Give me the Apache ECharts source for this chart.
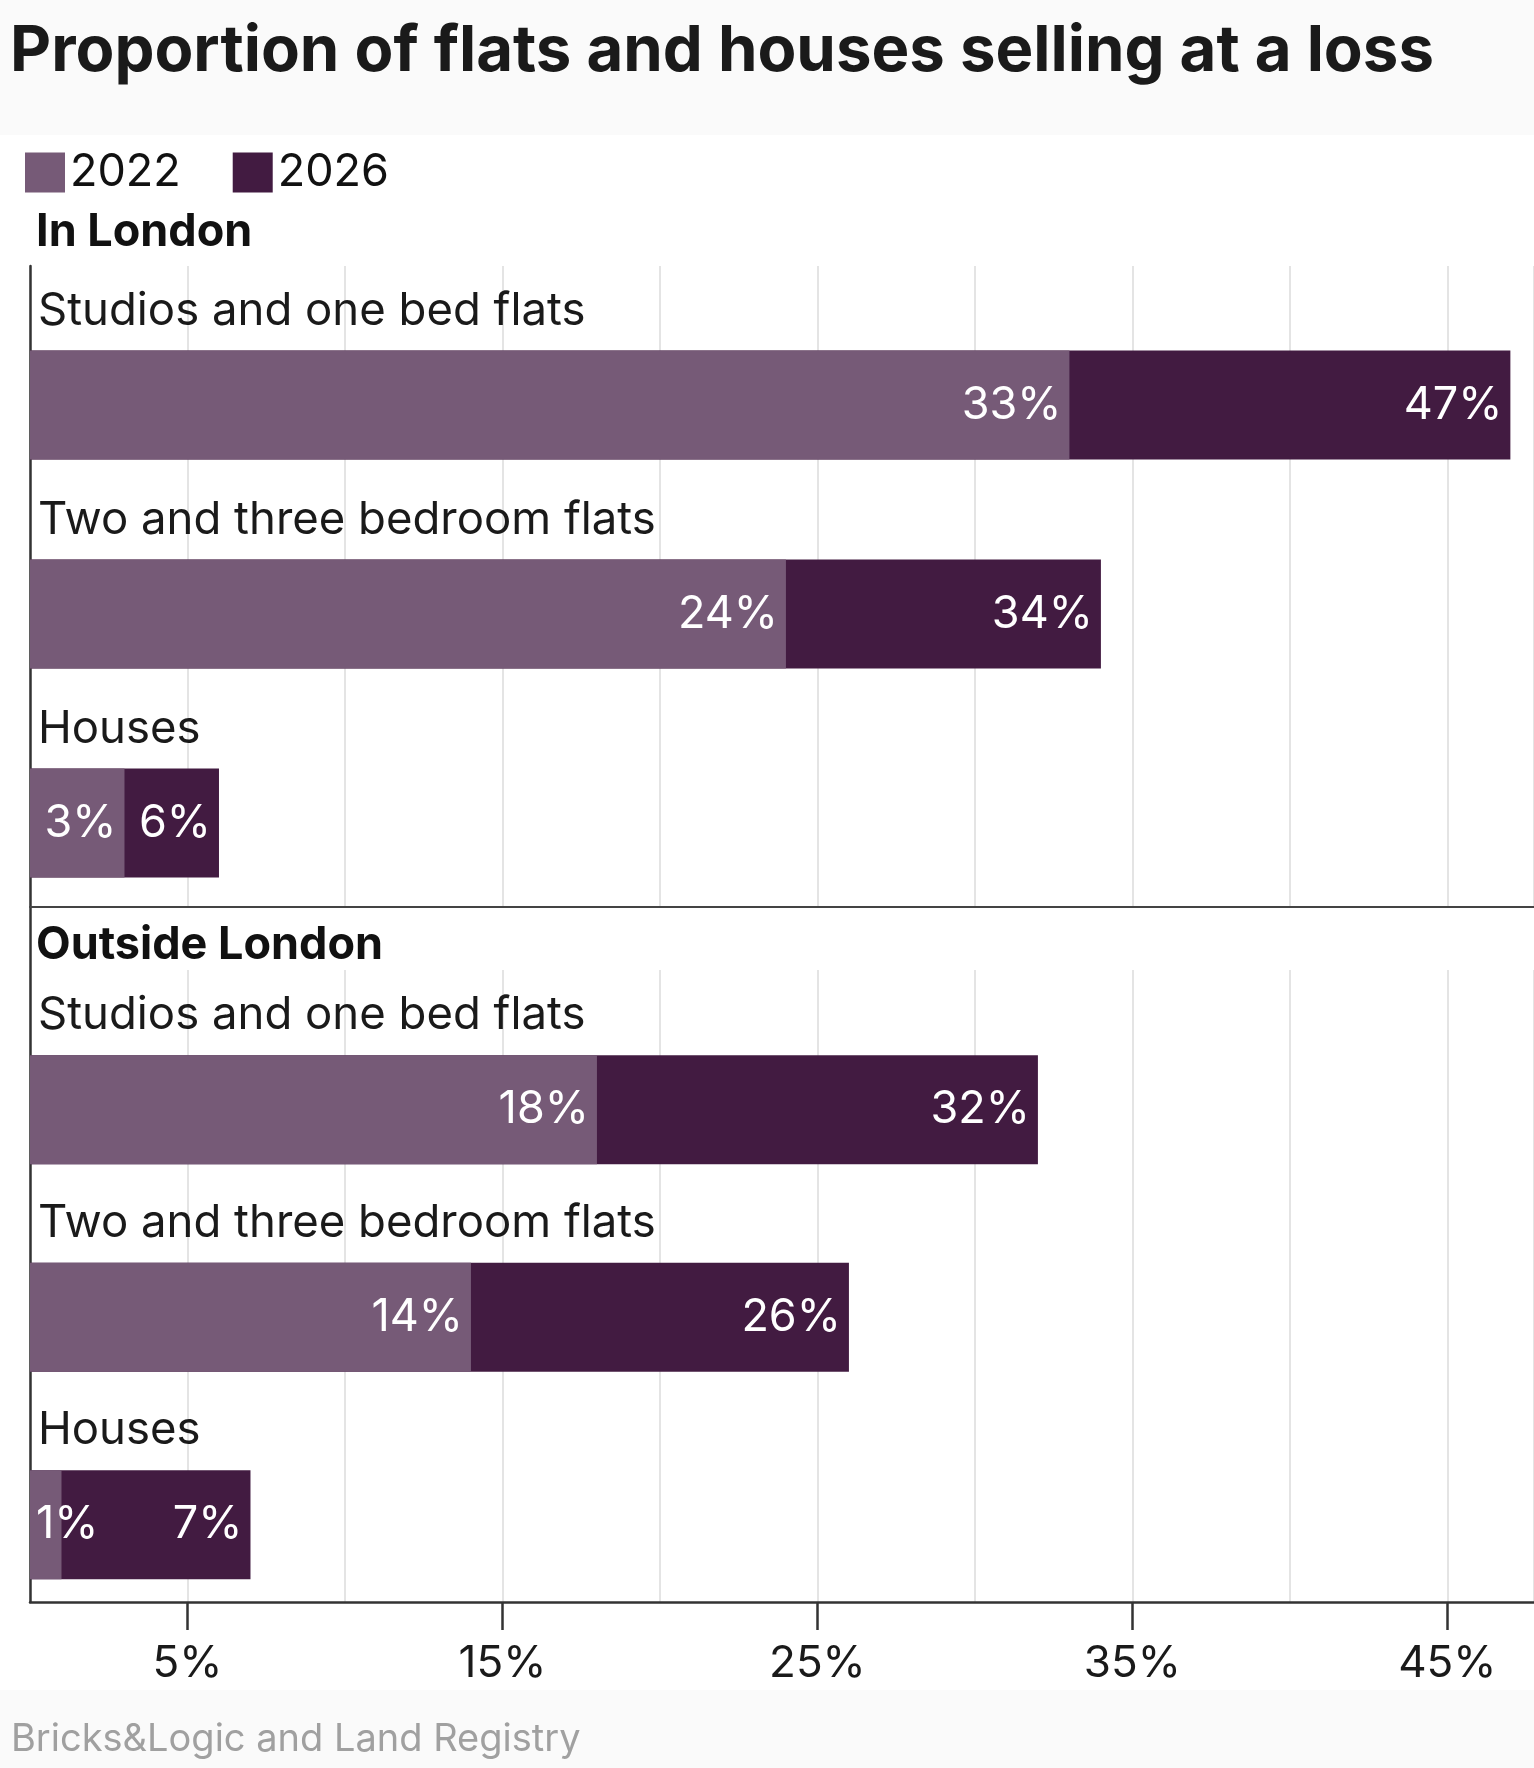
<!DOCTYPE html>
<html>
<head>
<meta charset="utf-8">
<title>Proportion of flats and houses selling at a loss</title>
<script src="https://cdn.jsdelivr.net/npm/echarts@6/dist/echarts.min.js"></script>
<style>
  html, body { margin: 0; padding: 0; background: #fafafa; }
  #chart { width: 1534px; height: 1768px; }
</style>
</head>
<body>
<div id="chart"></div>
<script>
// data
const categories = ["Studios and one bed flats", "Two and three bedroom flats", "Houses"];
const london2022 = [33, 24, 3];
const london2026 = [47, 34, 6];
const outside2022 = [18, 14, 1];
const outside2026 = [32, 26, 7];
const tickValues = [5, 15, 25, 35, 45];

const light = "#765a77";
const dark = "#421b41";
const font = "Inter";
const xMax = 47.75;

// tiny bars get their label on the left instead
function withLabels(values) {
    return values.map(v => v < 2
        ? { value: v, label: { position: "insideLeft", distance: 6 } }
        : v);
}

function barSeries(name, color, values, gridIdx, z) {
    return {
        name: name,
        type: "bar",
        xAxisIndex: gridIdx,
        yAxisIndex: gridIdx,
        barWidth: 109,
        barGap: "-100%",
        z: z,
        itemStyle: { color: color },
        label: {
            show: true,
            position: "insideRight",
            distance: 8,
            formatter: "{c}%",
            color: "#fff",
            fontFamily: font,
            fontSize: 45,
        },
        data: withLabels(values),
    };
}

const hiddenValueY = { type: "value", min: 0, max: 1, show: false };

function linesX(gridIdx, showLine) {
    return {
        type: "value", gridIndex: gridIdx, min: 0, max: xMax, interval: 5,
        axisLine: { show: showLine, onZero: false, lineStyle: { color: "#444", width: 2 } },
        axisTick: { show: false },
        axisLabel: { show: false },
        splitLine: { show: true, lineStyle: { color: "#e4e4e4", width: 2 } },
    };
}

function barY(gridIdx) {
    return {
        type: "category", gridIndex: gridIdx, data: categories, inverse: true,
        axisLine: { show: false },
        axisTick: { show: false },
        splitLine: { show: false },
        axisLabel: {
            inside: true,
            margin: 8,
            verticalAlign: "bottom",
            padding: [0, 0, 68, 0],
            lineHeight: 52,
            color: "#1a1a1a",
            fontFamily: font,
            fontSize: 45.5,
        },
    };
}

const chart = echarts.init(document.getElementById("chart"));

const option = {
    backgroundColor: "#fafafa",
    animation: false,
    graphic: [
        { type: "rect", z: -10, shape: { x: 0, y: 135, width: 1534, height: 1555 }, style: { fill: "#ffffff" } },
    ],
    title: [
        {
            text: "Proportion of flats and houses selling at a loss",
            left: 5, top: 15,
            textStyle: { fontFamily: font, fontWeight: "bold", fontSize: 63.5, color: "#1a1a1a" },
        },
        {
            text: "In London",
            left: 31, top: 205,
            textStyle: { fontFamily: font, fontWeight: "bold", fontSize: 45, color: "#111" },
        },
        {
            text: "Outside London",
            left: 31, top: 918,
            textStyle: { fontFamily: font, fontWeight: "bold", fontSize: 45, color: "#111" },
        },
        {
            text: "Bricks&Logic and Land Registry",
            left: 6, top: 1716,
            textStyle: { fontFamily: font, fontWeight: "normal", fontSize: 38, color: "#a0a0a0" },
        },
    ],
    legend: {
        data: ["2022", "2026"],
        left: 25, top: 150,
        icon: "rect",
        itemWidth: 40, itemHeight: 40, itemGap: 52,
        padding: 0,
        textStyle: { fontFamily: font, fontSize: 45, color: "#111", padding: [0, 0, 0, 0] },
    },
    grid: [
        { left: 30, right: 0, top: 266, height: 1336 },   // frame with ticks
        { left: 30, right: 0, top: 266, height: 641 },    // London gridlines + separator
        { left: 30, right: 0, top: 970, height: 632 },    // Outside gridlines
        { left: 30, right: 0, top: 300.5, height: 627 },  // London bars
        { left: 30, right: 0, top: 1006, height: 622.5 }, // Outside bars
    ],
    xAxis: [
        {
            type: "value", gridIndex: 0, min: 0, max: xMax, interval: 5,
            axisLine: { show: true, onZero: false, lineStyle: { color: "#333", width: 2.5 } },
            axisTick: { show: true, length: 28, customValues: tickValues, lineStyle: { color: "#333", width: 2.5 } },
            axisLabel: {
                show: true, customValues: tickValues, formatter: "{value}%", margin: 40,
                color: "#1a1a1a", fontFamily: font, fontSize: 44,
            },
            splitLine: { show: false },
        },
        linesX(1, true),
        linesX(2, false),
        { type: "value", gridIndex: 3, min: 0, max: xMax, show: false },
        { type: "value", gridIndex: 4, min: 0, max: xMax, show: false },
    ],
    yAxis: [
        {
            type: "value", gridIndex: 0, min: 0, max: 1,
            axisLine: { show: true, lineStyle: { color: "#333", width: 2.5 } },
            axisTick: { show: false }, axisLabel: { show: false }, splitLine: { show: false },
        },
        Object.assign({ gridIndex: 1 }, hiddenValueY),
        Object.assign({ gridIndex: 2 }, hiddenValueY),
        barY(3),
        barY(4),
    ],
    series: [
        barSeries("2026", dark, london2026, 3, 2),
        barSeries("2022", light, london2022, 3, 3),
        barSeries("2026", dark, outside2026, 4, 2),
        barSeries("2022", light, outside2022, 4, 3),
    ],
};

chart.setOption(option);
</script>
</body>
</html>
